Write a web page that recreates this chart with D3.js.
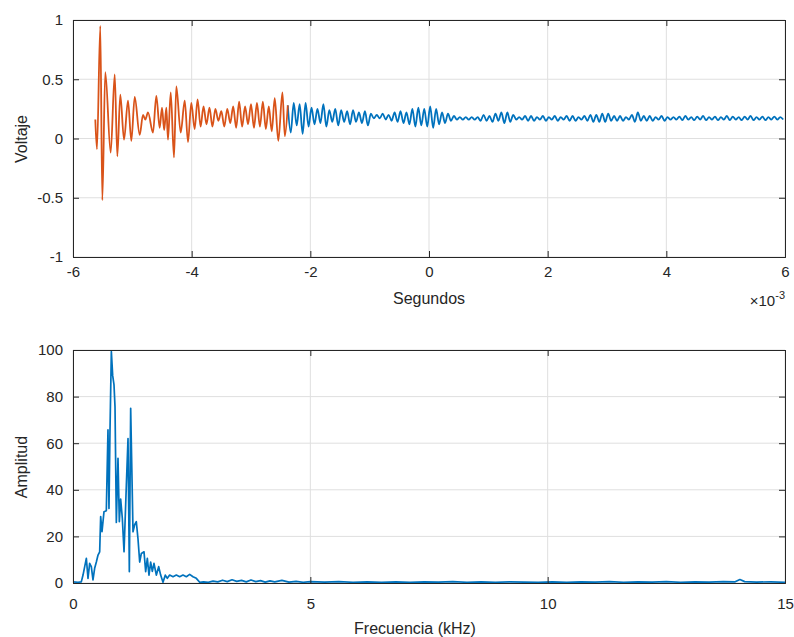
<!DOCTYPE html>
<html><head><meta charset="utf-8">
<script src="https://cdn.jsdelivr.net/npm/d3@7"></script>
<style>
html,body{margin:0;padding:0;background:#fff;}
text{font-family:"Liberation Sans",Arial,Helvetica,sans-serif;fill:#262626;}
</style></head>
<body><svg id="c" width="794" height="637"></svg>
<script>
// ---- Top panel data (time in ms, voltage) ----
const orangeT = [-5.624,-5.596,-5.540,-5.506,-5.456,-5.365,-5.297,-5.253,-5.203,-5.140,-5.073,-5.017,-4.960,-4.876,-4.820,-4.781,-4.736,-4.652,-4.596,-4.539,-4.500,-4.463,-4.427,-4.399,-4.353,-4.298,-4.259,-4.185,-4.117,-4.062,-4.006,
 -3.95,-3.90,-3.85,-3.80,-3.75,-3.70,-3.65,-3.60,-3.55,-3.50,-3.45,-3.40,-3.35,-3.30,-3.25,-3.20,-3.15,-3.10,-3.05,-3.00,-2.95,-2.90,-2.85,-2.80,-2.75,-2.70,-2.65,-2.60,-2.54,-2.47,-2.43,-2.38];
const orangeV = [0.16,-0.09,0.95,-0.52,0.56,-0.12,0.54,-0.15,0.37,-0.01,0.32,-0.02,0.35,0.03,0.20,0.16,0.22,0.05,0.36,0.09,0.26,0.07,0.26,-0.01,0.39,-0.16,0.44,0.05,0.32,-0.03,0.30,
 0.08,0.33,0.10,0.27,0.12,0.26,0.10,0.25,0.15,0.23,0.10,0.25,0.13,0.27,0.09,0.31,0.10,0.27,0.12,0.29,0.09,0.30,0.10,0.31,0.08,0.27,0.06,0.34,-0.02,0.39,0.02,0.28];
const blueStart = -2.38, blueStep = 0.05;
const blueV = [0.28,0.05,0.30,0.11,0.29,0.04,0.30,0.10,0.26,0.12,0.25,0.13,0.29,0.10,0.24,0.14,0.25,0.11,0.24,0.14,
 0.23,0.12,0.24,0.14,0.22,0.13,0.23,0.11,0.21,0.17,0.20,0.17,0.21,0.16,0.20,0.15,0.22,0.14,0.23,0.13,
 0.22,0.12,0.25,0.10,0.26,0.11,0.25,0.10,0.27,0.09,0.25,0.12,0.22,0.13,0.21,0.15,0.19,0.16,0.18,0.16,
 0.18,0.16,0.18,0.16,0.18,0.15,0.20,0.15,0.19,0.14,0.21,0.15,0.22,0.13,0.22,0.14,0.20,0.16,0.18,0.16,
 0.19,0.15,0.19,0.15,0.18,0.16,0.19,0.15,0.18,0.16,0.19,0.15,0.18,0.16,0.19,0.15,0.19,0.15,0.18,0.16,
 0.19,0.15,0.20,0.14,0.20,0.14,0.21,0.14,0.21,0.15,0.19,0.15,0.19,0.15,0.18,0.16,0.20,0.14,0.22,0.15,
 0.19,0.15,0.19,0.15,0.18,0.16,0.19,0.15,0.18,0.16,0.18,0.16,0.185,0.155,0.19,0.16,0.18,0.155,0.185,0.16,
 0.19,0.155,0.18,0.16,0.185,0.155,0.18,0.16,0.19,0.155,0.185,0.16,0.18,0.155,0.185,0.16,0.19,0.155,0.18,0.16,
 0.185,0.155,0.18,0.16,0.185,0.16,0.18,0.16];
const topXTicks = [-6,-4,-2,0,2,4,6];
const topYTicks = [-1,-0.5,0,0.5,1];

// ---- Bottom panel data (frequency kHz, amplitude) ----
const specF = [0,0.105,0.175,0.211,0.281,0.316,0.351,0.386,0.421,0.456,0.492,0.527,0.562,0.583,0.611,0.653,0.702,0.737,0.758,0.779,0.808,0.836,0.864,0.885,0.913,0.948,0.976,1.004,1.039,1.075,1.124,1.159,1.187,1.215,1.243,1.264,1.299,1.334,1.369,1.405,1.440,1.496,1.531,1.566,1.601,1.636,1.671,1.706,1.756,1.805,1.847,1.896,1.945,1.987,2.036,2.107,2.177,2.247,2.317,2.388,2.458,2.528,2.598,2.669,
 2.75,2.85,2.95,3.05,3.15,3.25,3.35,3.45,3.55,3.65,3.75,3.85,3.95,4.05,4.15,4.25,4.4,4.55,4.7,4.85,5.0,5.3,5.6,5.9,6.2,6.5,6.8,7.1,7.4,7.7,8.0,8.3,8.6,8.9,9.2,9.5,9.8,10.1,10.4,10.7,11.0,11.3,11.6,11.9,12.2,12.5,12.8,13.1,13.4,13.7,13.95,14.05,14.15,14.4,14.7,15.0];
const specA = [0.5,0.3,0.5,3.4,10.6,2,8.4,7,1.3,6.3,9,12,13.4,28.5,22,30.6,31,65.7,32,65,99.3,89,85,75.7,26,53.5,26.3,36,27.8,13.4,42,62,4.9,75,45,22,25,26.3,19,9,12.7,13.4,4.9,10.6,3.4,9,5,8.4,3.4,7,3.4,0.3,3.4,2,3.4,2.7,3.4,2.7,3.4,2.7,3.7,2.7,2,0.3,
 0.5,0.3,0.8,0.5,1.2,0.6,1.4,0.7,1.1,0.5,1.3,0.6,1.0,0.4,0.9,0.5,1.1,0.4,0.7,0.3,0.6,0.4,0.6,0.3,0.5,0.3,0.5,0.3,0.5,0.4,0.6,0.3,0.5,0.3,0.5,0.4,0.3,0.5,0.3,0.5,0.4,0.6,0.3,0.5,0.4,0.6,0.3,0.5,0.4,0.6,0.5,1.5,0.6,0.4,0.5,0.3];
const botXTicks = [0,5,10,15];
const botYTicks = [0,20,40,60,80,100];

// ---- Drawing ----
const svg = d3.select("#c");
svg.append("rect").attr("width",794).attr("height",637).attr("fill","#fff");
const BLUE="#0072BD", ORANGE="#D95319", AX="#262626", GRID="#dfdfdf";
const TICKLEN = 6;

function panel(g, x, y, xt, yt, xfmt, yfmt, id, xpad){
  const [x0,x1]=x.range(), [y0,y1]=y.range();
  g.append("g").selectAll("line").data(xt).join("line")
    .attr("x1",d=>x(d)).attr("x2",d=>x(d)).attr("y1",y1).attr("y2",y0)
    .attr("stroke",GRID).attr("stroke-width",1);
  g.append("g").selectAll("line").data(yt).join("line")
    .attr("y1",d=>y(d)).attr("y2",d=>y(d)).attr("x1",x0).attr("x2",x1)
    .attr("stroke",GRID).attr("stroke-width",1);
  g.append("clipPath").attr("id",id).append("rect")
    .attr("x",x0).attr("y",y1-2).attr("width",x1-x0).attr("height",y0-y1+2);
  const axB = d3.axisBottom(x).tickValues(xt).tickSize(-TICKLEN).tickPadding(xpad).tickFormat(xfmt);
  const axT = d3.axisTop(x).tickValues(xt).tickSize(-TICKLEN).tickFormat("");
  const axL = d3.axisLeft(y).tickValues(yt).tickSize(-TICKLEN).tickPadding(10).tickFormat(yfmt);
  const axR = d3.axisRight(y).tickValues(yt).tickSize(-TICKLEN).tickFormat("");
  return {axB,axT,axL,axR};
}
function finishAxes(g, x, y, a){
  const [x0,x1]=x.range(), [y0,y1]=y.range();
  const gb=g.append("g").attr("transform",`translate(0,${y0})`).call(a.axB);
  const gt=g.append("g").attr("transform",`translate(0,${y1})`).call(a.axT);
  const gl=g.append("g").attr("transform",`translate(${x0},0)`).call(a.axL);
  const gr=g.append("g").attr("transform",`translate(${x1},0)`).call(a.axR);
  [gb,gt,gl,gr].forEach(s=>{
    s.selectAll(".domain").attr("stroke",AX).attr("stroke-width",1);
    s.selectAll(".tick line").attr("stroke",AX);
    s.selectAll("text").attr("font-size",15).attr("font-family","Liberation Sans, Arial, sans-serif").attr("fill",AX);
  });
}
const fmtNum = d => (d<0?"-":"")+Math.abs(d);

// Top panel
const xT = d3.scaleLinear().domain([-6,6]).range([73,785]);
const yT = d3.scaleLinear().domain([-1,1]).range([257,20]);
const gTop = svg.append("g");
const aTop = panel(gTop,xT,yT,topXTicks,topYTicks,fmtNum,fmtNum,"clipTop",9);
const line = d3.line().x(d=>xT(d[0])).y(d=>yT(d[1])).curve(d3.curveMonotoneX);
const orangeData = orangeT.map((t,i)=>[t,orangeV[i]]);
const blueData = blueV.map((v,i)=>[blueStart+i*blueStep, v]);
gTop.append("path").datum(blueData).attr("d",line).attr("fill","none")
  .attr("stroke",BLUE).attr("stroke-width",1.8).attr("stroke-linejoin","round").attr("clip-path","url(#clipTop)");
gTop.append("path").datum(orangeData).attr("d",line).attr("fill","none")
  .attr("stroke",ORANGE).attr("stroke-width",1.8).attr("stroke-linejoin","round").attr("clip-path","url(#clipTop)");
finishAxes(gTop,xT,yT,aTop);
svg.append("text").attr("x",429).attr("y",304).attr("text-anchor","middle").attr("font-size",16).text("Segundos");
const sx = svg.append("text").attr("x",785).attr("y",306).attr("text-anchor","end").attr("font-size",15).attr("fill","#555");
sx.append("tspan").text("\u00d710");
sx.append("tspan").attr("dy",-7).attr("font-size",11).text("-3");
svg.append("text").attr("transform","translate(27,139) rotate(-90)").attr("text-anchor","middle").attr("font-size",16).text("Voltaje");

// Bottom panel
const xB = d3.scaleLinear().domain([0,15]).range([73,785]);
const yB = d3.scaleLinear().domain([0,100]).range([583,350]);
const gBot = svg.append("g");
const aBot = panel(gBot,xB,yB,botXTicks,botYTicks,d3.format("d"),d3.format("d"),"clipBot",15);
const line2 = d3.line().x(d=>xB(d[0])).y(d=>yB(d[1]));
gBot.append("path").datum(specF.map((f,i)=>[f,specA[i]])).attr("d",line2).attr("fill","none")
  .attr("stroke",BLUE).attr("stroke-width",1.7).attr("stroke-linejoin","round").attr("clip-path","url(#clipBot)");
finishAxes(gBot,xB,yB,aBot);
svg.append("text").attr("x",415).attr("y",634).attr("text-anchor","middle").attr("font-size",16).text("Frecuencia (kHz)");
svg.append("text").attr("transform","translate(27,467) rotate(-90)").attr("text-anchor","middle").attr("font-size",16).text("Amplitud");
</script></body></html>
